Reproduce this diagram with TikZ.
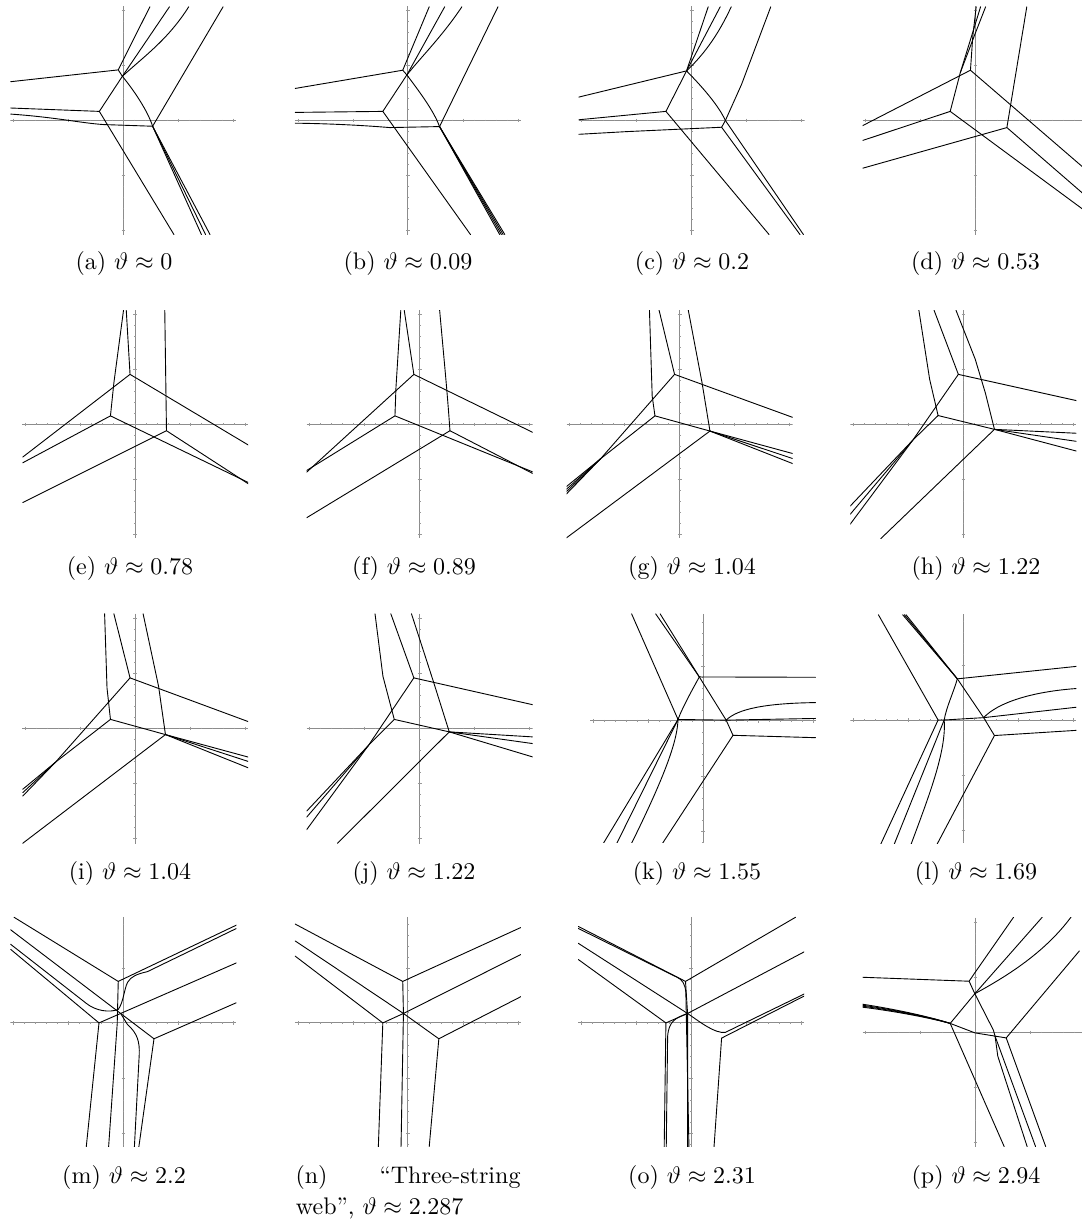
\documentclass[tikz,border=0pt]{standalone}
\usepackage{tikz}
\tikzset{
  cv/.style={line width=0.9pt, line join=round, line cap=round},
  axisline/.style={black!45, line width=0.9pt},
  tk/.style={black!40, line width=0.5pt},
  captext/.style={inner sep=0pt, scale=2.4, anchor=base},
  zs/.style={x=0.34375pt, y=-0.3374pt},
  zt/.style={x=0.3374pt, y=-0.3374pt},
}
\newcommand\plotaxes[2]{%
  \draw[axisline] (-113,0) -- (113,0);
  \draw[axisline] (0,#1) -- (0,#2);
  \foreach \t in {-121,-110,...,121} {
    \draw[tk] (\t,-0.9) -- (\t,0.9);
    \draw[tk] (-0.9,\t) -- (0.9,\t);
  }
  \foreach \t in {-110,-55,55,110} {
    \draw[tk] (\t,-1.8) -- (\t,1.8);
    \draw[tk] (-1.8,\t) -- (1.8,\t);
  }
}
\begin{document}
\begin{tikzpicture}[x=1pt,y=-1pt]
\useasboundingbox (0,0) rectangle (1081,1220);

% ---------------- (a)
\begin{scope}[shift={(123.4,120.5)}]\begin{scope}
\clip (-113,-114) rectangle (113,114);
\plotaxes{-114}{114}
\begin{scope}[zs]
\draw[cv] (-328,-115) -- (-15,-150) -- (77,-337);
\draw[cv] (-15,-150) -- (-3,-131);
\draw[cv] (-3,-131) -- (134,-337);
\draw[cv] (-3,-131) .. controls (60,-190) and (130,-240) .. (190,-337);
\draw[cv] (-3,-131) -- (-70,-27);
\draw[cv] (-3,-131) .. controls (30,-90) and (70,-30) .. (85,17);
\draw[cv] (-328,-37) -- (-70,-27) -- (147,338);
\draw[cv] (-328,-19) .. controls (-200,-10) and (-120,8) .. (-58,12) -- (85,17);
\draw[cv] (85,17) -- (290,-337);
\draw[cv] (85,17) -- (227,338);
\draw[cv] (85,17) -- (239,338);
\draw[cv] (85,17) -- (252,338);
\end{scope}
\end{scope}\end{scope}
\node[captext] (capa) at (124,269) {(a) $\vartheta \approx 0$};

% ---------------- (b)
\begin{scope}[shift={(407.9,120.5)}]\begin{scope}
\clip (-113,-114) rectangle (113,114);
\plotaxes{-114}{114}
\begin{scope}[zs]
\draw[cv] (-328,-95) -- (-15,-149) -- (62,-337);
\draw[cv] (-15,-149) -- (-3,-135);
\draw[cv] (-3,-135) -- (107,-337);
\draw[cv] (-3,-135) .. controls (40,-190) and (100,-250) .. (157,-337);
\draw[cv] (-3,-135) -- (-73,-27);
\draw[cv] (-3,-135) .. controls (30,-90) and (75,-30) .. (92,18);
\draw[cv] (-328,-24) -- (-73,-27) -- (182,338);
\draw[cv] (-328,8) .. controls (-230,9) and (-120,15) .. (-53,21) -- (92,18);
\draw[cv] (92,18) -- (262,-337);
\draw[cv] (92,18) -- (267,338);
\draw[cv] (92,18) -- (272,338);
\draw[cv] (92,18) -- (277,338);
\draw[cv] (92,18) -- (282,338);
\end{scope}
\end{scope}\end{scope}
\node[captext] (capb) at (408,269) {(b) $\vartheta \approx 0.09$};

% ---------------- (c)
\begin{scope}[shift={(691.7,120.5)}]\begin{scope}
\clip (-113,-114) rectangle (113,114);
\plotaxes{-114}{114}
\begin{scope}[zs]
\draw[cv] (-330,-69) -- (-15,-147) -- (48,-337);
\draw[cv] (-15,-147) -- (83,-337);
\draw[cv] (-15,-147) .. controls (40,-200) and (80,-260) .. (115,-337);
\draw[cv] (-15,-147) -- (-75,-27);
\draw[cv] (-15,-147) .. controls (40,-90) and (80,-40) .. (98,0);
\draw[cv] (-330,-2) -- (-75,-27) -- (225,338);
\draw[cv] (-330,41) -- (-190,33) -- (87,20);
\draw[cv] (230,-337) -- (145,-107) -- (98,0) -- (87,20);
\draw[cv] (98,0) -- (325,338);
\draw[cv] (87,20) -- (315,338);
\end{scope}
\end{scope}\end{scope}
\node[captext] (capc) at (692,269) {(c) $\vartheta \approx 0.2$};

% ---------------- (d)
\begin{scope}[shift={(975.5,120.5)}]\begin{scope}
\clip (-113,-114) rectangle (113,114);
\plotaxes{-114}{114}
\begin{scope}[zt]
\draw[cv] (-340,18) -- (-15,-149) -- (318,138);
\draw[cv] (-15,-149) -- (-8,-250) -- (2,-337);
\draw[cv] (-75,-27) -- (-45,-142) -- (-2,-255) -- (30,-337);
\draw[cv] (-45,-142) -- (15,-337);
\draw[cv] (-340,61) -- (-75,-27) -- (318,263);
\draw[cv] (-340,143) -- (93,21) -- (318,216);
\draw[cv] (93,21) -- (152,-337);
\end{scope}
\end{scope}\end{scope}
\node[captext] (capd) at (975.5,269) {(d) $\vartheta \approx 0.53$};

% ---------------- (e)
\begin{scope}[shift={(135.2,424.3)}]\begin{scope}
\clip (-113,-114) rectangle (113,114);
\plotaxes{-114}{114}
\begin{scope}[zs]
\draw[cv] (-26,-338) -- (-15,-148);
\draw[cv] (-34,-338) -- (-62,-123) -- (-72,-25);
\draw[cv] (86,-338) -- (91,19);
\draw[cv] (-327,97) -- (-15,-148) -- (330,62);
\draw[cv] (-327,114) -- (-72,-25) -- (330,173);
\draw[cv] (-327,232) -- (91,19) -- (330,177);
\end{scope}
\end{scope}\end{scope}
\node[captext] (cape) at (130,574) {(e) $\vartheta \approx 0.78$};

% ---------------- (f)
\begin{scope}[shift={(419.7,424.3)}]\begin{scope}
\clip (-113,-114) rectangle (113,114);
\plotaxes{-114}{114}
\begin{scope}[zs]
\draw[cv] (-45,-338) -- (-17,-148);
\draw[cv] (-55,-338) -- (-69,-110) -- (-72,-25);
\draw[cv] (58,-338) .. controls (70,-200) and (80,-100) .. (88,19);
\draw[cv] (-329,142) -- (-17,-148) -- (331,25);
\draw[cv] (-329,137) -- (-72,-25) -- (331,142);
\draw[cv] (-329,277) -- (88,19) -- (331,147);
\end{scope}
\end{scope}\end{scope}
\node[captext] (capf) at (414,574) {(f) $\vartheta \approx 0.89$};

% ---------------- (g)
\begin{scope}[shift={(679.7,424.3)}]\begin{scope}
\clip (-113,-114) rectangle (113,114);
\plotaxes{-114}{114}
\begin{scope}[zs]
\draw[cv] (-88,-338) -- (-80,-83) -- (-72,-25);
\draw[cv] (-60,-338) -- (-15,-148);
\draw[cv] (25,-338) -- (65,-123) -- (88,20);
\draw[cv] (-15,-148) -- (-230,102) -- (-330,185);
\draw[cv] (-72,-25) -- (-230,102) -- (-330,207);
\draw[cv] (-230,102) -- (-330,193);
\draw[cv] (-230,102) -- (-330,200);
\draw[cv] (-15,-148) -- (330,-20);
\draw[cv] (-72,-25) -- (88,20);
\draw[cv] (88,20) -- (330,87);
\draw[cv] (88,20) -- (330,102);
\draw[cv] (88,20) -- (330,117);
\draw[cv] (88,20) -- (-330,337);
\end{scope}
\end{scope}\end{scope}
\node[captext] (capg) at (692,574) {(g) $\vartheta \approx 1.04$};

% ---------------- (h)
\begin{scope}[shift={(963.4,424.3)}]\begin{scope}
\clip (-113,-114) rectangle (113,114);
\plotaxes{-114}{114}
\begin{scope}[zt]
\draw[cv] (-132,-338) -- (-100,-133) -- (-75,-26);
\draw[cv] (-87,-338) -- (-15,-148);
\draw[cv] (-22,-338) -- (35,-193) -- (65,-93) -- (92,15);
\draw[cv] (-15,-148) -- (-150,47) -- (-340,247);
\draw[cv] (-75,-26) -- (-150,47) -- (-340,272);
\draw[cv] (-150,47) -- (-340,302);
\draw[cv] (-15,-148) -- (345,-68);
\draw[cv] (-75,-26) -- (92,15);
\draw[cv] (92,15) -- (345,27);
\draw[cv] (92,15) -- (345,52);
\draw[cv] (92,15) -- (345,82);
\draw[cv] (92,15) -- (-245,339);
\end{scope}
\end{scope}\end{scope}
\node[captext] (caph) at (976,574) {(h) $\vartheta \approx 1.22$};

% ---------------- (i)
\begin{scope}[shift={(135.2,728.5)}]\begin{scope}
\clip (-113,-115) rectangle (113,115);
\plotaxes{-115}{115}
\begin{scope}[zs]
\draw[cv] (-89,-340) -- (-82,-120) -- (-72,-27);
\draw[cv] (-62,-340) -- (-15,-150);
\draw[cv] (23,-340) -- (68,-125) -- (88,18);
\draw[cv] (-15,-150) -- (-232,100) -- (-327,180);
\draw[cv] (-72,-27) -- (-232,100) -- (-327,200);
\draw[cv] (-232,100) -- (-327,190);
\draw[cv] (-15,-150) -- (330,-20);
\draw[cv] (-72,-27) -- (88,18);
\draw[cv] (88,18) -- (330,85);
\draw[cv] (88,18) -- (330,98);
\draw[cv] (88,18) -- (330,117);
\draw[cv] (88,18) -- (-327,340);
\end{scope}
\end{scope}\end{scope}
\node[captext] (capi) at (130,879) {(i) $\vartheta \approx 1.04$};

% ---------------- (j)
\begin{scope}[shift={(419.7,728.5)}]\begin{scope}
\clip (-113,-115) rectangle (113,115);
\plotaxes{-115}{115}
\begin{scope}[zs]
\draw[cv] (-130,-340) -- (-107,-155) -- (-74,-27);
\draw[cv] (-84,-340) -- (-17,-150);
\draw[cv] (-24,-340) -- (38,-145) -- (86,10);
\draw[cv] (-17,-150) -- (-149,50) -- (-329,245);
\draw[cv] (-74,-27) -- (-149,50) -- (-329,300);
\draw[cv] (-149,50) -- (-329,263);
\draw[cv] (-17,-150) -- (331,-70);
\draw[cv] (-74,-27) -- (86,10);
\draw[cv] (86,10) -- (331,25);
\draw[cv] (86,10) -- (331,45);
\draw[cv] (86,10) -- (331,85);
\draw[cv] (86,10) -- (-239,340);
\end{scope}
\end{scope}\end{scope}
\node[captext] (capj) at (414,879) {(j) $\vartheta \approx 1.22$};

% ---------------- (k)
\begin{scope}[shift={(703.1,720.8)}]\begin{scope}
\clip (-113,-107) rectangle (113,122);
\plotaxes{-107}{122}
\begin{scope}[zs]
\draw[cv] (-208,-317) -- (-73,-4);
\draw[cv] (-138,-317) -- (-11,-130);
\draw[cv] (-125,-317) -- (-11,-130);
\draw[cv] (-11,-130) -- (327,-129);
\draw[cv] (-11,-130) .. controls (-30,-95) and (-60,-40) .. (-73,-4);
\draw[cv] (-11,-130) -- (67,-2) -- (87,43);
\draw[cv] (-73,-4) -- (67,-2) -- (327,-7);
\draw[cv] (67,-2) .. controls (100,-35) and (180,-52) .. (327,-54);
\draw[cv] (87,43) -- (327,50);
\draw[cv] (87,43) -- (-118,363);
\draw[cv] (-73,-4) -- (-290,363);
\draw[cv] (-73,-4) -- (-251,363);
\draw[cv] (-73,-4) .. controls (-75,60) and (-110,160) .. (-208,363);
\end{scope}
\end{scope}\end{scope}
\node[captext] (capk) at (697,879) {(k) $\vartheta \approx 1.55$};

% ---------------- (l)
\begin{scope}[shift={(963.4,720)}]\begin{scope}
\clip (-113,-106) rectangle (113,123);
\plotaxes{-106}{123}
\begin{scope}[zt]
\draw[cv] (-252,-312) -- (-75,0);
\draw[cv] (-180,-312) -- (-18,-122);
\draw[cv] (-175,-312) -- (-18,-122);
\draw[cv] (-170,-312) -- (-18,-122);
\draw[cv] (-18,-122) -- (345,-160);
\draw[cv] (-18,-122) .. controls (-30,-80) and (-50,-40) .. (-57,0);
\draw[cv] (-18,-122) -- (60,-7) -- (92,46);
\draw[cv] (-75,0) -- (-57,0) -- (60,-7) -- (345,-39);
\draw[cv] (60,-7) .. controls (100,-50) and (200,-85) .. (345,-94);
\draw[cv] (92,46) -- (345,30);
\draw[cv] (92,46) -- (-78,368);
\draw[cv] (-75,0) -- (-245,368);
\draw[cv] (-57,0) -- (-205,368);
\draw[cv] (-57,0) .. controls (-50,90) and (-100,220) .. (-155,368);
\end{scope}
\end{scope}\end{scope}
\node[captext] (capl) at (976,879) {(l) $\vartheta \approx 1.69$};

% ---------------- (m)
\begin{scope}[shift={(123.4,1022.9)}]\begin{scope}
\clip (-113,-106) rectangle (113,124);
\plotaxes{-106}{124}
\begin{scope}[zs]
\draw[cv] (-318,-313) -- (-15,-123) -- (329,-290);
\draw[cv] (-15,-123) -- (-18,2) -- (-43,367);
\draw[cv] (-328,-276) -- (-8,-28) -- (89,47) -- (329,-60);
\draw[cv] (89,47) -- (45,367);
\draw[cv] (-328,-218) -- (-71,0) -- (-8,-28) -- (329,-178);
\draw[cv] (-71,0) -- (-108,367);
\draw[cv] (-328,-233) -- (-108,-58) .. controls (-80,-35) and (-40,-30) .. (-15,-40)
   .. controls (0,-60) and (2,-100) .. (12,-120) .. controls (22,-138) and (40,-145) .. (70,-152) -- (329,-280);
\draw[cv] (32,367) -- (46,95) .. controls (48,55) and (40,30) .. (12,5) -- (-8,-28);
\end{scope}
\end{scope}\end{scope}
\node[captext] (capm) at (124,1183) {(m) $\vartheta \approx 2.2$};

% ---------------- (n)
\begin{scope}[shift={(407.9,1022.9)}]\begin{scope}
\clip (-113,-106) rectangle (113,124);
\plotaxes{-106}{124}
\begin{scope}[zs]
\draw[cv] (-328,-293) -- (-15,-123) -- (329,-283);
\draw[cv] (-15,-123) -- (-13,-28) -- (-20,367);
\draw[cv] (-328,-243) -- (-13,-28) -- (90,47) -- (329,-78);
\draw[cv] (90,47) -- (62,367);
\draw[cv] (-328,-198) -- (-73,0) -- (-13,-28) -- (329,-203);
\draw[cv] (-73,0) -- (-86,367);
\end{scope}
\end{scope}\end{scope}
\node[captext] (capn) at (408,1183) {\hbox to 93.75pt{(n)\hfill “Three-string}};
\node[captext, anchor=base west] (capnb) at (295.5,1214) {web”, $\vartheta \approx 2.287$};

% ---------------- (o)
\begin{scope}[shift={(691,1022.9)}]\begin{scope}
\clip (-113,-106) rectangle (113,124);
\plotaxes{-106}{124}
\begin{scope}[zs]
\draw[cv] (-328,-286) -- (-16,-123) -- (304,-313);
\draw[cv] (-328,-280) -- (-40,-135) .. controls (-25,-128) and (-17,-115) .. (-15,-90) -- (-6,367);
\draw[cv] (-16,-123) -- (-10,-28) -- (-10,367);
\draw[cv] (-328,-236) -- (-10,-28) .. controls (30,0) and (70,32) .. (100,28) -- (330,-86);
\draw[cv] (89,45) -- (330,-80);
\draw[cv] (89,45) -- (67,367);
\draw[cv] (-328,-188) -- (-73,0) -- (-10,-28) -- (330,-211);
\draw[cv] (-73,0) -- (-78,367);
\draw[cv] (-10,-28) .. controls (-45,-15) and (-65,-5) .. (-68,40) -- (-72,367);
\end{scope}
\end{scope}\end{scope}
\node[captext] (capo) at (692,1183) {(o) $\vartheta \approx 2.31$};

% ---------------- (p)
\begin{scope}[shift={(975.5,1032.5)}]\begin{scope}
\clip (-113,-115) rectangle (113,114);
\plotaxes{-115}{114}
\begin{scope}[zt]
\draw[cv] (-342,-164) -- (-19,-152) -- (-2,-177) -- (113,-342);
\draw[cv] (-19,-152) -- (-2,-115);
\draw[cv] (-2,-115) -- (198,-342);
\draw[cv] (-2,-115) .. controls (80,-160) and (200,-230) .. (283,-342);
\draw[cv] (-2,-115) -- (-75,-27);
\draw[cv] (-2,-115) -- (53,-7) -- (58,11);
\draw[cv] (-342,-85) .. controls (-230,-68) and (-130,-45) .. (-75,-27);
\draw[cv] (-342,-82) .. controls (-230,-66) and (-130,-44) .. (-75,-27);
\draw[cv] (-342,-79) .. controls (-230,-64) and (-130,-43) .. (-75,-27);
\draw[cv] (-342,-76) .. controls (-230,-62) and (-130,-42) .. (-75,-27);
\draw[cv] (-75,-27) -- (-2,1) -- (91,16);
\draw[cv] (-75,-27) -- (85,338);
\draw[cv] (91,16) -- (308,-242);
\draw[cv] (91,16) -- (208,338);
\draw[cv] (58,11) -- (66,70) -- (153,338);
\draw[cv] (58,11) -- (178,338);
\end{scope}
\end{scope}\end{scope}
\node[captext] (capp) at (976,1183) {(p) $\vartheta \approx 2.94$};

\end{tikzpicture}
\end{document}
